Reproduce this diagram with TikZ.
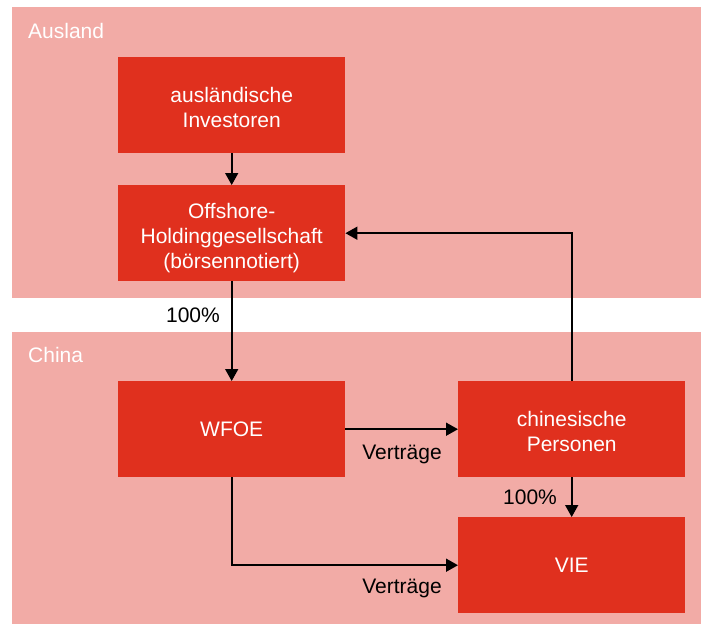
\documentclass[tikz,border=0pt]{standalone}
\usepackage{fontspec}
\setmainfont{Liberation Sans}
\usetikzlibrary{arrows.meta}
\definecolor{band}{HTML}{F2ABA6}
\definecolor{boxred}{HTML}{E0301E}
\begin{document}
\begin{tikzpicture}[x=1pt,y=-1pt,
  entity/.style={fill=boxred,minimum width=227pt,minimum height=96pt,inner sep=0pt,anchor=north west},
  boxtext/.style={text=white,align=center,inner sep=0pt,font=\fontsize{21}{25}\selectfont},
  region/.style={text=white,font=\fontsize{21}{25}\selectfont,anchor=base west,inner sep=0pt},
  lbl/.style={font=\fontsize{21}{25}\selectfont,inner sep=0pt},
  conn/.style={line width=1.6pt,-{Triangle[length=12pt,width=13pt]}}]
\useasboundingbox (0,0) rectangle (705,625);
\fill[band] (12,7) rectangle (701,298);
\fill[band] (12,332) rectangle (701,624);
\node[region] (ausland) at (28,38) {Ausland};
\node[region] (china) at (28,362) {China};
\node[entity] (inv) at (118,57) {};
\node[entity] (off) at (118,185) {};
\node[entity] (wfoe) at (118,381) {};
\node[entity] (pers) at (458,381) {};
\node[entity] (vie) at (458,517) {};
\node[boxtext] (invt) at ([yshift=-2pt]inv.center) {ausländische\\Investoren};
\node[boxtext] (offt) at ([yshift=-4.5pt]off.center) {Offshore-\\Holdinggesellschaft\\(börsennotiert)};
\node[boxtext] (wfoet) at ([yshift=-0.5pt]wfoe.center) {WFOE};
\node[boxtext] (perst) at ([yshift=-2pt]pers.center) {chinesische\\Personen};
\node[boxtext] (viet) at ([yshift=-0.5pt]vie.center) {VIE};
\draw[conn] (inv.south) -- (off.north);
\draw[conn] (off.south) -- (wfoe.north);
\draw[conn] (pers.north) -- (pers.north |- off.east) -- (off.east);
\draw[conn] (wfoe.east) -- (pers.west);
\draw[conn] (pers.south) -- (vie.north);
\draw[conn] (wfoe.south) -- (wfoe.south |- vie.west) -- (vie.west);
\node[lbl] (p1) at (193,315) {100\%};
\node[lbl] (p2) at (530,497) {100\%};
\node[lbl] (v1) at (402,454) {Verträge};
\node[lbl] (v2) at (402,588) {Verträge};
\end{tikzpicture}
\end{document}
